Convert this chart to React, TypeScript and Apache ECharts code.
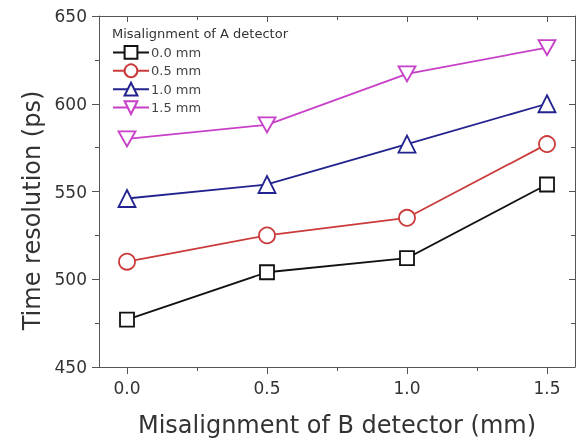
import React, { useEffect, useRef } from "react";
import * as echarts from "echarts";

const xValues = [0.0, 0.5, 1.0, 1.5];
const seriesNames = ["0.0 mm", "0.5 mm", "1.0 mm", "1.5 mm"];
const s00 = [477, 504, 512, 554];
const s05 = [510, 525, 535, 577];
const s10 = [546, 554, 577, 600];
const s15 = [580, 588, 617, 632];
const xTickLabels = [0, 0.5, 1.0, 1.5];
const xMinorTicks = [0.25, 0.75, 1.25];

const colors = ["#111111", "#cc3b3b", "#23238f", "#c83fc8"];
const symbols = ["rect", "circle", "triangle", "path://M0,0 L2,0 L1,1.732 Z"];
const sizes: any[] = [14, 16, 17, [17, 15]];

export default function App() {
  const ref = useRef<HTMLDivElement>(null);
  useEffect(() => {
    const chart = echarts.init(ref.current!, null, { renderer: "svg" });
    const all = [s00, s05, s10, s15];
    const axisColor = "#555";
    const font = "'DejaVu Sans', sans-serif";
    const xBase = { type: "value", min: -0.1, max: 1.6, splitLine: { show: false } };
    const yBase = { type: "value", min: 450, max: 650, interval: 50, splitLine: { show: false } };
    chart.setOption({
      animation: false,
      grid: { left: 99, right: 8, top: 16, bottom: 76 },
      graphic: [
        {
          type: "text",
          left: 112,
          top: 27,
          style: { text: "Misalignment of A detector", fontSize: 13, fill: "#333", fontFamily: font },
        },
      ],
      legend: {
        orient: "vertical",
        left: 112,
        top: 45,
        padding: 0,
        itemWidth: 36,
        itemHeight: 16,
        itemGap: 3.6,
        textStyle: { fontSize: 13, color: "#444", fontFamily: font, padding: [0, 0, 0, -3] },
        data: seriesNames,
      },
      xAxis: [
        {
          ...xBase,
          position: "bottom",
          axisLine: { show: true, onZero: false, lineStyle: { color: axisColor, width: 1 } },
          axisTick: { show: true, customValues: xTickLabels, length: 7, lineStyle: { color: axisColor } },
          axisLabel: {
            customValues: xTickLabels,
            formatter: (v: number) => v.toFixed(1),
            fontSize: 17,
            color: "#333",
            fontFamily: font,
            margin: 12,
          },
          name: "Misalignment of B detector (mm)",
          nameLocation: "middle",
          nameGap: 46,
          nameTextStyle: { fontSize: 24, color: "#333", fontFamily: font },
        },
        {
          ...xBase,
          position: "bottom",
          axisLine: { show: false, onZero: false },
          axisTick: { show: true, customValues: xMinorTicks, length: 4, lineStyle: { color: axisColor } },
          axisLabel: { show: false },
        },
        {
          ...xBase,
          position: "top",
          axisLine: { show: true, onZero: false, lineStyle: { color: axisColor, width: 1 } },
          axisTick: { show: true, inside: true, customValues: xTickLabels, length: 6, lineStyle: { color: axisColor } },
          axisLabel: { show: false },
        },
        {
          ...xBase,
          position: "top",
          axisLine: { show: false, onZero: false },
          axisTick: { show: true, inside: true, customValues: xMinorTicks, length: 4, lineStyle: { color: axisColor } },
          axisLabel: { show: false },
        },
      ],
      yAxis: [
        {
          ...yBase,
          position: "left",
          axisLine: { show: true, onZero: false, lineStyle: { color: axisColor, width: 1 } },
          axisTick: { show: true, length: 7, lineStyle: { color: axisColor } },
          minorTick: { show: true, splitNumber: 2, length: 4, lineStyle: { color: axisColor } },
          axisLabel: { fontSize: 17, color: "#333", fontFamily: font, margin: 12 },
          name: "Time resolution (ps)",
          nameLocation: "middle",
          nameGap: 46,
          nameTextStyle: { fontSize: 24, color: "#333", fontFamily: font, padding: [0, 38, 0, 0] },
        },
        {
          ...yBase,
          position: "right",
          axisLine: { show: true, onZero: false, lineStyle: { color: axisColor, width: 1 } },
          axisTick: { show: true, inside: true, length: 6, lineStyle: { color: axisColor } },
          minorTick: { show: true, splitNumber: 2, length: 4, lineStyle: { color: axisColor } },
          axisLabel: { show: false },
        },
      ],
      series: all.map((d, i) => ({
        name: seriesNames[i],
        type: "line",
        xAxisIndex: 0,
        yAxisIndex: 0,
        data: d.map((v, j) => [xValues[j], v]),
        symbol: symbols[i],
        symbolSize: sizes[i],
        showAllSymbol: true,
        lineStyle: { color: colors[i], width: 1.8 },
        itemStyle: { color: "#ffffff", borderColor: colors[i], borderWidth: 1.8 },
        emphasis: { disabled: true },
        z: 2 + i,
      })),
    });
    return () => chart.dispose();
  }, []);
  return <div ref={ref} style={{ position: "fixed", left: 0, top: 0, width: 583, height: 443 }} />;
}
